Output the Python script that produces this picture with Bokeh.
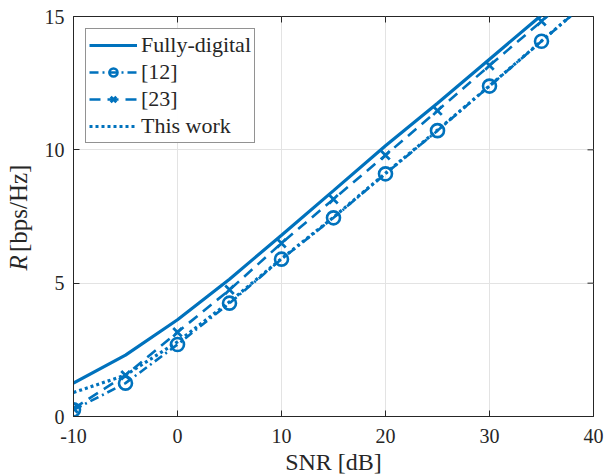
import numpy as np
from bokeh.plotting import figure
from bokeh.layouts import row
from bokeh.models import Range1d, FixedTicker, Legend
from bokeh.core.properties import value
from bokeh.embed import file_html
from bokeh.resources import INLINE

snr = [-10, -5, 0, 5, 10, 15, 20, 25, 30, 35, 40]
fully_digital = [1.25, 2.3, 3.63, 5.15, 6.8, 8.47, 10.15, 11.75, 13.4, 15.05, 16.7]
ref12 = [0.25, 1.25, 2.7, 4.25, 5.9, 7.45, 9.1, 10.72, 12.39, 14.07, 15.75]
ref23 = [0.3, 1.55, 3.16, 4.75, 6.5, 8.15, 9.8, 11.47, 13.16, 14.82, 16.5]
this_work = [0.9, 1.55, 2.8, 4.3, 5.92, 7.47, 9.12, 10.74, 12.4, 14.08, 15.76]
x_ticks = [-10, 0, 10, 20, 30, 40]
y_ticks = [0, 5, 10, 15]
x_min, x_max = -10, 40
y_min, y_max = 0, 15

BLUE = "#0072BD"
AXC = "#262626"
FONT = "Liberation Serif"
LABEL_W = 40
H = 476

p = figure(frame_width=520, frame_height=400, output_backend="svg",
           toolbar_location=None, x_range=Range1d(x_min, x_max), y_range=Range1d(y_min, y_max),
           min_border_left=73 - LABEL_W, min_border_right=18, min_border_top=16, min_border_bottom=60)
p.outline_line_color = AXC
p.outline_line_width = 1
p.background_fill_color = "white"

for ax in [p.xaxis[0], p.yaxis[0]]:
    ax.major_tick_in = 6
    ax.major_tick_out = 0
    ax.minor_tick_line_color = None
    ax.axis_line_color = AXC
    ax.major_tick_line_color = AXC
    ax.major_label_text_font = FONT
    ax.major_label_text_font_size = "20px"
    ax.major_label_text_color = AXC
    ax.axis_label_text_font = FONT
    ax.axis_label_text_font_style = "normal"
    ax.axis_label_text_color = AXC
p.xaxis.ticker = FixedTicker(ticks=x_ticks)
p.yaxis.ticker = FixedTicker(ticks=y_ticks)
p.xaxis.major_label_overrides = {t: str(t) for t in x_ticks}
p.xaxis.axis_label = "SNR [dB]"
p.xaxis.axis_label_text_font_size = "24px"
p.xaxis.axis_label_standoff = 3
p.xaxis.major_label_standoff = 12
p.yaxis.major_label_standoff = 9
p.yaxis.axis_label = None

# inward ticks on the top and right edges of the box
p.scatter(x_ticks, [y_max] * len(x_ticks), marker="dash", angle=np.pi / 2, size=12,
          line_color=AXC, line_width=1)
p.scatter([x_max] * len(y_ticks), y_ticks, marker="dash", size=12,
          line_color=AXC, line_width=1)

p.xgrid.ticker = FixedTicker(ticks=x_ticks)
p.ygrid.ticker = FixedTicker(ticks=y_ticks)
p.grid.grid_line_color = "#e3e3e3"
p.grid.grid_line_width = 1

r1 = p.line(snr, fully_digital, line_color=BLUE, line_width=3.2)
r2 = p.line(snr, ref12, line_color=BLUE, line_width=2.6, line_dash="9 4 2 4")
r2m = p.scatter(snr, ref12, marker="circle", size=13, line_color=BLUE, line_width=2.6, fill_color=None)
r3 = p.line(snr, ref23, line_color=BLUE, line_width=2.6, line_dash="11 7")
r3m = p.scatter(snr, ref23, marker="x", size=12, line_color=BLUE, line_width=2.8)
r4 = p.line(snr, this_work, line_color=BLUE, line_width=3.2, line_dash="3 3")

legend = Legend(items=[("Fully-digital", [r1]), ("[12]", [r2, r2m]), ("[23]", [r3, r3m]),
                       ("This work", [r4])],
                location="top_left")
legend.label_text_font = FONT
legend.label_text_font_size = "22px"
legend.label_text_color = AXC
legend.border_line_color = AXC
legend.border_line_width = 1
legend.glyph_width = 48
legend.glyph_height = 20
legend.label_height = 20
legend.spacing = 1
legend.padding = 3
legend.margin = 12
legend.label_standoff = 4
p.add_layout(legend)

# narrow panel holding the y-axis label (italic R + [bps/Hz])
q = figure(width=LABEL_W, height=H, output_backend="svg", toolbar_location=None,
           x_range=Range1d(0, LABEL_W), y_range=Range1d(0, H), min_border=0)
q.axis.visible = False
q.grid.visible = False
q.outline_line_color = None
r_start = 173
q.text(x=[18], y=[r_start], text=["R"], angle=np.pi / 2, text_font=value(FONT),
       text_font_style="italic", text_font_size="25px", text_color=AXC,
       text_baseline="middle", text_align="left")
q.text(x=[18], y=[r_start + 22], text=["[bps/Hz]"], angle=np.pi / 2, text_font=value(FONT),
       text_font_size="25px", text_color=AXC, text_baseline="middle", text_align="left")

layout = row(q, p, spacing=0)
open("out.html", "w").write(file_html(layout, INLINE))
